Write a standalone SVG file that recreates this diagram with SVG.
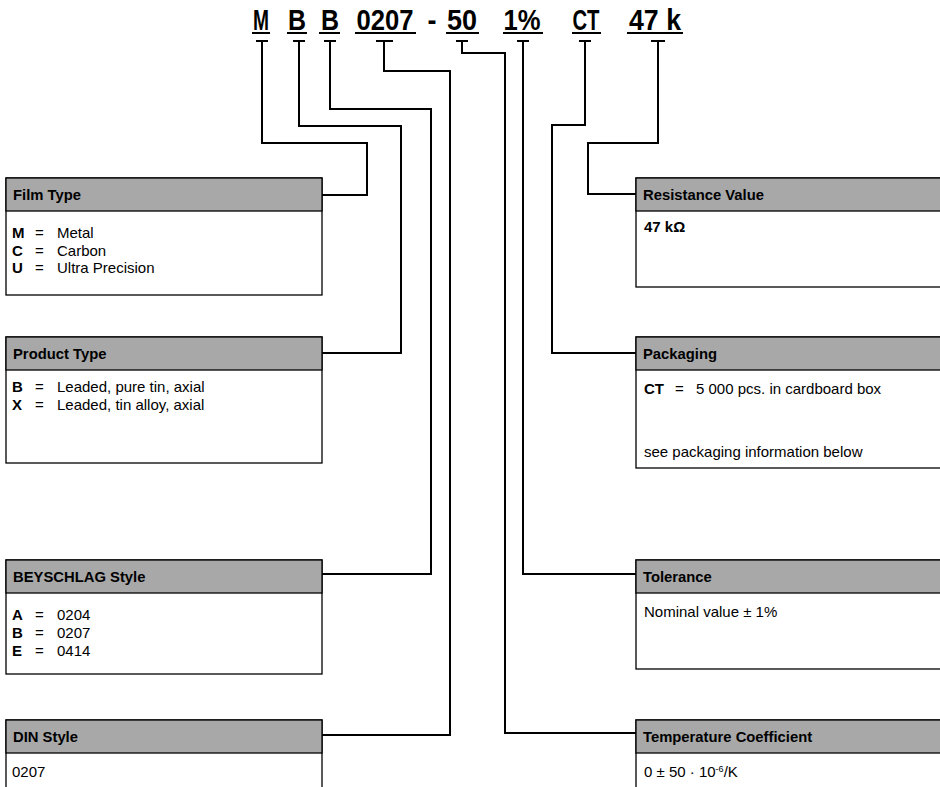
<svg xmlns="http://www.w3.org/2000/svg" width="940" height="787" viewBox="0 0 940 787">
<style>
.bg{fill:#fff}
.box{fill:#fff;stroke:#000;stroke-width:1.3}
.hdr{fill:#a8a8a8;stroke:#000;stroke-width:1.3}
.t{font-family:"Liberation Sans",Arial,sans-serif;font-size:15px;fill:#000}
.h{font-family:"Liberation Sans",Arial,sans-serif;font-size:14.8px;font-weight:bold;fill:#000}
.b{font-weight:bold}
.code{font-family:"Liberation Sans",Arial,sans-serif;font-size:29px;font-weight:bold;fill:#000;text-anchor:middle}
.c{fill:none;stroke:#000;stroke-width:2}
.u{fill:none;stroke:#000;stroke-width:2}
</style>
<rect class="bg" x="0" y="0" width="940" height="787"/>
<g id="code">
<text class="code" x="261" y="29.5" textLength="16" lengthAdjust="spacingAndGlyphs">M</text>
<text class="code" x="297" y="29.5" textLength="18" lengthAdjust="spacingAndGlyphs">B</text>
<text class="code" x="330" y="29.5" textLength="18" lengthAdjust="spacingAndGlyphs">B</text>
<text class="code" x="385" y="29.5" textLength="57" lengthAdjust="spacingAndGlyphs">0207</text>
<text class="code" x="432" y="29.5" textLength="9" lengthAdjust="spacingAndGlyphs">-</text>
<text class="code" x="462" y="29.5" textLength="30" lengthAdjust="spacingAndGlyphs">50</text>
<text class="code" x="522" y="29.5" textLength="37" lengthAdjust="spacingAndGlyphs">1%</text>
<text class="code" x="586" y="29.5" textLength="27" lengthAdjust="spacingAndGlyphs">CT</text>
<text class="code" x="655" y="29.5" textLength="52" lengthAdjust="spacingAndGlyphs">47 k</text>
<path class="u" d="M252 33H270M287 33H307M319 33H340M355 33H416M446 33H479M503 33H543M572 33H601M627 33H683"/>
</g>
<g id="connectors">
<path class="u" d="M256 41H268M293 41H305M324 41H336M376 41H393M456 41H468M517 41H529M579 41H591M651 41H665"/>
<path class="c" d="M262 41V143H367V195H322"/>
<path class="c" d="M299 41V126H401V353H322"/>
<path class="c" d="M330 41V109H431V574H322"/>
<path class="c" d="M384 41V71H450V735H322"/>
<path class="c" d="M462 41V53H505V733H636"/>
<path class="c" d="M523 41V574H636"/>
<path class="c" d="M585 41V125H552V353H636"/>
<path class="c" d="M658 41V143H588V194H636"/>
</g>
<g id="film-type">
<rect class="box" x="6" y="178" width="316" height="117"/>
<rect class="hdr" x="6" y="178" width="316" height="33"/>
<text class="h" x="13" y="200">Film Type</text>
<text class="t" x="12" y="238"><tspan class="b">M</tspan><tspan x="35">=</tspan><tspan x="57">Metal</tspan></text>
<text class="t" x="12" y="256"><tspan class="b">C</tspan><tspan x="35">=</tspan><tspan x="57">Carbon</tspan></text>
<text class="t" x="12" y="273"><tspan class="b">U</tspan><tspan x="35">=</tspan><tspan x="57">Ultra Precision</tspan></text>
</g>
<g id="product-type">
<rect class="box" x="6" y="337" width="316" height="126"/>
<rect class="hdr" x="6" y="337" width="316" height="33"/>
<text class="h" x="13" y="359">Product Type</text>
<text class="t" x="12" y="392"><tspan class="b">B</tspan><tspan x="35">=</tspan><tspan x="57">Leaded, pure tin, axial</tspan></text>
<text class="t" x="12" y="410"><tspan class="b">X</tspan><tspan x="35">=</tspan><tspan x="57">Leaded, tin alloy, axial</tspan></text>
</g>
<g id="beyschlag-style">
<rect class="box" x="6" y="560" width="316" height="114"/>
<rect class="hdr" x="6" y="560" width="316" height="33"/>
<text class="h" x="13" y="582">BEYSCHLAG Style</text>
<text class="t" x="12" y="620"><tspan class="b">A</tspan><tspan x="35">=</tspan><tspan x="57">0204</tspan></text>
<text class="t" x="12" y="638"><tspan class="b">B</tspan><tspan x="35">=</tspan><tspan x="57">0207</tspan></text>
<text class="t" x="12" y="656"><tspan class="b">E</tspan><tspan x="35">=</tspan><tspan x="57">0414</tspan></text>
</g>
<g id="din-style">
<rect class="box" x="6" y="720" width="316" height="80"/>
<rect class="hdr" x="6" y="720" width="316" height="33"/>
<text class="h" x="13" y="742">DIN Style</text>
<text class="t" x="12" y="777">0207</text>
</g>
<g id="resistance-value">
<rect class="box" x="636" y="178" width="320" height="109"/>
<rect class="hdr" x="636" y="178" width="320" height="33"/>
<text class="h" x="643" y="200">Resistance Value</text>
<text class="t b" x="644" y="232">47 kΩ</text>
</g>
<g id="packaging">
<rect class="box" x="636" y="337" width="320" height="131"/>
<rect class="hdr" x="636" y="337" width="320" height="33"/>
<text class="h" x="643" y="359">Packaging</text>
<text class="t" x="644" y="394"><tspan class="b">CT</tspan><tspan x="675">=</tspan><tspan x="696">5 000 pcs. in cardboard box</tspan></text>
<text class="t" x="644" y="457">see packaging information below</text>
</g>
<g id="tolerance">
<rect class="box" x="636" y="560" width="320" height="109"/>
<rect class="hdr" x="636" y="560" width="320" height="33"/>
<text class="h" x="643" y="582">Tolerance</text>
<text class="t" x="644" y="617">Nominal value ± 1%</text>
</g>
<g id="temperature-coefficient">
<rect class="box" x="636" y="720" width="320" height="80"/>
<rect class="hdr" x="636" y="720" width="320" height="33"/>
<text class="h" x="643" y="742">Temperature Coefficient</text>
<text class="t" x="644" y="777">0 ± 50 · 10<tspan dy="-5" font-size="9">-6</tspan><tspan dy="5">/K</tspan></text>
</g>
</svg>
